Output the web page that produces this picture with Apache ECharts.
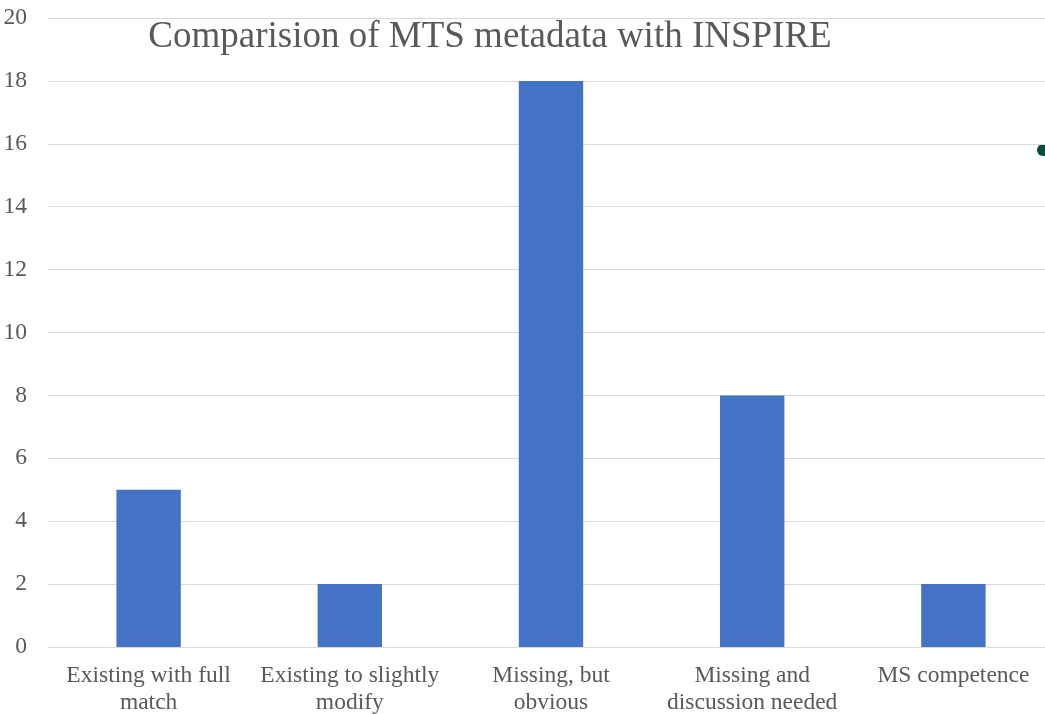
<!DOCTYPE html>
<html>
<head>
<meta charset="utf-8">
<script src="https://cdn.jsdelivr.net/npm/echarts@6/dist/echarts.min.js"></script>
<style>
  html, body { margin: 0; padding: 0; background: #ffffff; }
  #chart { width: 1045px; height: 714px; }
</style>
</head>
<body>
<div id="chart"></div>
<script>
// Categories of metadata elements and how many fall into each
const categories = [
  'Existing with full\nmatch',
  'Existing to slightly\nmodify',
  'Missing, but\nobvious',
  'Missing and\ndiscussion needed',
  'MS competence'
];
const counts = [5, 2, 18, 8, 2];
const yTicks = { min: 0, max: 20, interval: 2 };

const textColor = '#595959';
const serif = '"Liberation Serif", "Times New Roman", serif';

const chart = echarts.init(document.getElementById('chart'));
chart.setOption({
  animation: false,
  backgroundColor: '#ffffff',
  title: {
    text: 'Comparision of MTS metadata with INSPIRE',
    left: 485,
    top: 14,
    textAlign: 'center',
    textStyle: { fontFamily: serif, fontSize: 37, fontWeight: 'normal', color: textColor }
  },
  grid: {
    left: 48, top: 18, width: 1006, height: 629,
    containLabel: false,
    outerBoundsMode: 'none'
  },
  xAxis: {
    type: 'category',
    data: categories,
    axisLine: { show: true, lineStyle: { color: '#d9d9d9', width: 1 } },
    axisTick: { show: false },
    axisLabel: {
      interval: 0,
      margin: 15,
      fontFamily: serif,
      fontSize: 23.5,
      lineHeight: 27,
      color: textColor
    }
  },
  yAxis: {
    type: 'value',
    min: yTicks.min,
    max: yTicks.max,
    interval: yTicks.interval,
    axisLine: { show: false },
    axisTick: { show: false },
    splitLine: { lineStyle: { color: '#d9d9d9', width: 1 } },
    axisLabel: { margin: 21, fontFamily: serif, fontSize: 23.5, color: textColor }
  },
  series: [{
    type: 'bar',
    data: counts,
    barWidth: '32%',
    itemStyle: { color: '#4472c4' }
  }],
  graphic: [{
    type: 'circle',
    shape: { cx: 1043, cy: 150, r: 6 },
    style: { fill: '#0b4a3e' }
  }]
});
</script>
</body>
</html>
